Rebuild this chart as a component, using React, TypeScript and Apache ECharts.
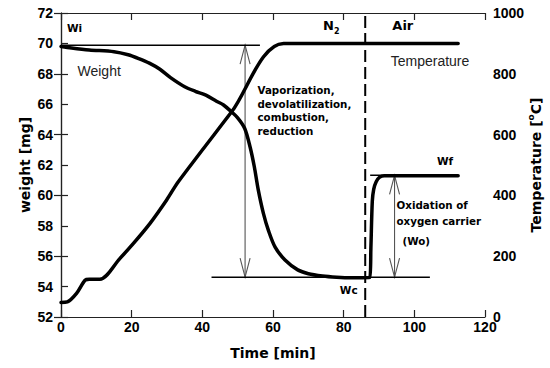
import React, { useEffect, useRef } from "react";
import * as echarts from "echarts";

// Sample weight over time [min, mg]
const timeWeight = [0, 3, 8, 15, 19, 22, 25, 28, 31, 35, 38, 41, 44, 46, 48, 50, 52, 53.5, 54.7, 55.8, 57.3, 58.7, 60.6, 63.4, 67, 70, 74, 78, 82, 87.4, 87.7, 88.1, 88.5, 89.2, 90.2, 91.5, 95, 100, 106, 112.4];
const weightMg = [69.8, 69.7, 69.57, 69.45, 69.25, 69.0, 68.7, 68.3, 67.75, 67.15, 66.85, 66.6, 66.2, 65.95, 65.55, 65.1, 64.4, 63.2, 61.9, 60.4, 58.8, 57.7, 56.6, 55.75, 55.1, 54.85, 54.7, 54.62, 54.58, 54.6, 56.5, 59.6, 60.4, 60.9, 61.2, 61.3, 61.3, 61.3, 61.3, 61.3];

// Furnace temperature over time [min, °C]
const timeTemp = [0, 1.8, 4.4, 6.8, 8, 11, 16.7, 20.5, 25.2, 29.9, 33.2, 48.3, 63, 112.4];
const tempC = [48, 50, 78, 121, 124, 124, 193, 242, 308, 385, 445, 675, 900, 900];

// Characteristic weights [mg] and gas switch time [min]
const W_INITIAL = 69.88;
const W_CHAR = 54.62;
const W_FINAL = 61.32;
const SWITCH_TIME = 86.1;

// Axis tick ranges
const timeTicks = { min: 0, max: 120, step: 20 };
const weightTicks = { min: 52, max: 72, step: 2 };
const tempTicks = { min: 0, max: 1000, step: 200 };

const BOLD = "DejaVu Sans";
const ARIAL = "Liberation Sans";

export default function App() {
  const ref = useRef<HTMLDivElement>(null);

  useEffect(() => {
    document.body.style.margin = "0";
    const chart = echarts.init(ref.current!, null, { renderer: "svg" });

    const axisLine = { show: true, lineStyle: { color: "#222", width: 1.2 } };
    const tick = { show: true, inside: true, length: 7, lineStyle: { color: "#222", width: 1.2 } };
    const tickLabel = {
      color: "#000",
      fontFamily: ARIAL,
      fontWeight: "bold" as const,
      fontSize: 14,
      formatter: (v: number) => String(v),
    };
    const nameStyle = { color: "#000", fontFamily: BOLD, fontWeight: "bold" as const, fontSize: 14 };

    const hLine = (x0: number, x1: number, w: number) => ({
      type: "line",
      data: [[x0, w], [x1, w]],
      symbol: "none",
      lineStyle: { color: "#000", width: 1.5 },
      silent: true,
      z: 2,
    });

    const arrowData = [
      [52.1, W_CHAR, W_INITIAL],
      [94.4, W_CHAR, W_FINAL],
    ];

    const option: any = {
      animation: false,
      grid: { left: 61, right: 65, top: 13, bottom: 51, outerBoundsMode: "none" },
      xAxis: [
        {
          type: "value",
          min: timeTicks.min,
          max: timeTicks.max,
          interval: timeTicks.step,
          position: "bottom",
          axisLine,
          axisTick: tick,
          splitLine: { show: false },
          axisLabel: { ...tickLabel, margin: 3 },
          name: "Time [min]",
          nameLocation: "middle",
          nameGap: 29,
          nameTextStyle: nameStyle,
        },
        {
          type: "value",
          min: timeTicks.min,
          max: timeTicks.max,
          interval: timeTicks.step,
          position: "top",
          axisLine,
          axisTick: tick,
          splitLine: { show: false },
          axisLabel: { show: false },
        },
      ],
      yAxis: [
        {
          type: "value",
          min: weightTicks.min,
          max: weightTicks.max,
          interval: weightTicks.step,
          position: "left",
          axisLine,
          axisTick: tick,
          splitLine: { show: false },
          axisLabel: { ...tickLabel, margin: 8 },
        },
        {
          type: "value",
          min: tempTicks.min,
          max: tempTicks.max,
          interval: tempTicks.step,
          position: "right",
          axisLine,
          axisTick: tick,
          splitLine: { show: false },
          axisLabel: { ...tickLabel, margin: 8 },
        },
      ],
      series: [
        hLine(0, 56.3, W_INITIAL),
        hLine(42.6, 104.4, W_CHAR),
        hLine(87.5, 112.4, W_FINAL),
        {
          type: "line",
          data: [[SWITCH_TIME, weightTicks.min], [SWITCH_TIME, weightTicks.max]],
          symbol: "none",
          lineStyle: { color: "#000", width: 2, type: [12, 5] },
          silent: true,
          z: 2,
        },
        {
          type: "custom",
          data: arrowData,
          encode: { x: 0, y: [1, 2] },
          silent: true,
          z: 2,
          renderItem: (_params: any, api: any) => {
            const x = api.value(0);
            const lo = api.coord([x, api.value(1)]);
            const hi = api.coord([x, api.value(2)]);
            const stroke = { stroke: "#555", lineWidth: 1.1, fill: "none" };
            const hw = 5;
            const hh = 19;
            return {
              type: "group",
              children: [
                { type: "line", shape: { x1: hi[0], y1: hi[1], x2: lo[0], y2: lo[1] }, style: stroke },
                {
                  type: "polyline",
                  shape: { points: [[hi[0] - hw, hi[1] + hh], [hi[0], hi[1]], [hi[0] + hw, hi[1] + hh]] },
                  style: stroke,
                },
                {
                  type: "polyline",
                  shape: { points: [[lo[0] - hw, lo[1] - hh], [lo[0], lo[1]], [lo[0] + hw, lo[1] - hh]] },
                  style: stroke,
                },
              ],
            };
          },
        },
        {
          name: "Temperature",
          type: "line",
          yAxisIndex: 1,
          data: timeTemp.map((t, i) => [t, tempC[i]]),
          symbol: "none",
          smooth: 0.3,
          lineStyle: { color: "#000", width: 3.5, cap: "round", join: "round" },
          z: 3,
        },
        {
          name: "Weight",
          type: "line",
          yAxisIndex: 0,
          data: timeWeight.map((t, i) => [t, weightMg[i]]),
          symbol: "none",
          smooth: 0.3,
          lineStyle: { color: "#000", width: 3.5, cap: "round", join: "round" },
          z: 4,
        },
      ],
      graphic: [
        {
          type: "text",
          x: 25,
          y: 165,
          rotation: Math.PI / 2,
          style: {
            text: "weight [mg]",
            font: `bold 14px '${BOLD}'`,
            fill: "#000",
            align: "center",
            verticalAlign: "middle",
          },
        },
        {
          type: "text",
          x: 536,
          y: 165,
          rotation: Math.PI / 2,
          style: {
            text: "{t|Temperature [}{s|o}{t|C]}",
            align: "center",
            verticalAlign: "middle",
            rich: {
              t: { font: `bold 14px '${BOLD}'`, lineHeight: 20, fill: "#000" },
              s: { font: `bold 9px '${BOLD}'`, lineHeight: 10, verticalAlign: "top", fill: "#000" },
            },
          },
        },
        {
          type: "text",
          x: 67,
          y: 28,
          style: { text: "Wi", font: `bold 10.5px '${BOLD}'`, fill: "#000", align: "left", verticalAlign: "middle" },
        },
        {
          type: "text",
          x: 77.5,
          y: 71,
          style: { text: "Weight", font: `14px '${ARIAL}'`, fill: "#222", align: "left", verticalAlign: "middle" },
        },
        {
          type: "text",
          x: 257.5,
          y: 83,
          style: {
            text: "Vaporization,\ndevolatilization,\ncombustion,\nreduction",
            font: `bold 10.3px '${BOLD}'`,
            lineHeight: 13.7,
            fill: "#000",
            align: "left",
            verticalAlign: "top",
          },
        },
        {
          type: "text",
          x: 323,
          y: 25,
          style: {
            text: "{n|N}{s|2}",
            fill: "#000",
            align: "left",
            verticalAlign: "middle",
            rich: {
              n: { font: `bold 13px '${BOLD}'`, lineHeight: 20, fill: "#000" },
              s: { font: `bold 8px '${BOLD}'`, lineHeight: 10, verticalAlign: "bottom", fill: "#000" },
            },
          },
        },
        {
          type: "text",
          x: 402.8,
          y: 25,
          style: { text: "Air", font: `bold 13px '${BOLD}'`, fill: "#000", align: "center", verticalAlign: "middle" },
        },
        {
          type: "text",
          x: 390.7,
          y: 61,
          style: { text: "Temperature", font: `14px '${ARIAL}'`, fill: "#222", align: "left", verticalAlign: "middle" },
        },
        {
          type: "text",
          x: 445,
          y: 161,
          style: { text: "Wf", font: `bold 10.5px '${BOLD}'`, fill: "#000", align: "center", verticalAlign: "middle" },
        },
        {
          type: "text",
          x: 348.7,
          y: 290,
          style: { text: "Wc", font: `bold 10.5px '${BOLD}'`, fill: "#000", align: "center", verticalAlign: "middle" },
        },
        {
          type: "text",
          x: 396.5,
          y: 197.5,
          style: {
            text: "Oxidation of\noxygen carrier",
            font: `bold 10.3px '${BOLD}'`,
            lineHeight: 15.5,
            fill: "#000",
            align: "left",
            verticalAlign: "top",
          },
        },
        {
          type: "text",
          x: 416.3,
          y: 240.8,
          style: { text: "(Wo)", font: `bold 10.3px '${BOLD}'`, fill: "#000", align: "center", verticalAlign: "middle" },
        },
      ],
    };

    chart.setOption(option);
    return () => chart.dispose();
  }, []);

  return (
    <div
      ref={ref}
      style={{ position: "fixed", left: 0, top: 0, width: 550, height: 368, background: "#fff" }}
    />
  );
}
